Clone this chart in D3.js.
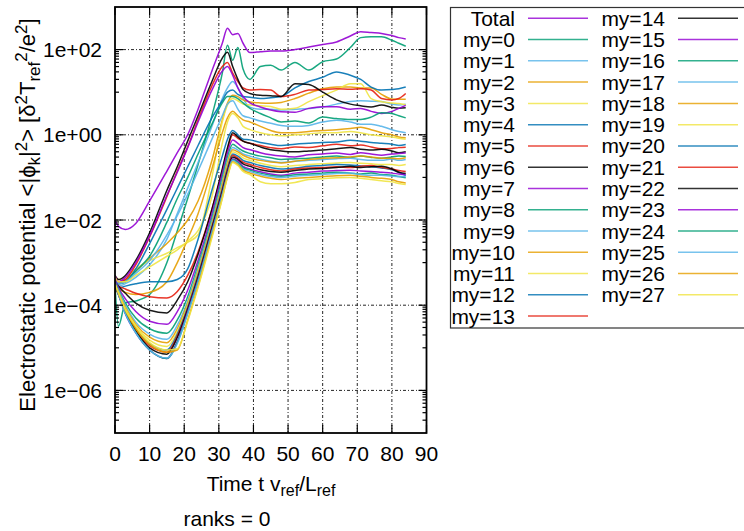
<!DOCTYPE html>
<html><head><meta charset="utf-8">
<script src="https://cdn.jsdelivr.net/npm/d3@7"></script>
<style>
body{margin:0;background:#fff;}
text{font-family:"Liberation Sans", Arial, Helvetica, sans-serif; fill:#000;}
</style>
</head><body>
<svg id="chart" width="744" height="531"></svg>
<script>
// ---------------- data ----------------
const times = [0, 1, 3, 6, 10, 15, 18, 21, 24, 28, 31, 32.5, 34, 35.5, 37, 39, 42, 45, 48, 52, 56, 60, 64, 68, 71, 74, 77, 80, 82, 84];

const total = [1e-2, 7.1e-3, 6.0e-3, 8.3e-3, 2.8e-2, 0.141, 0.38, 1.0, 3.98, 31.6, 141, 316, 224, 240, 141, 85, 89, 93, 93, 100, 115, 132, 151, 209, 263, 251, 240, 214, 191, 178];
const my0  = [3.2e-4, 3.2e-5, 1.12e-4, 1.26e-4, 1.78e-4, 1e-3, 5.6e-3, 3.2e-2, 0.2, 2.8, 28, 126, 56, 112, 35, 20, 40, 43, 33, 50, 33, 52, 60, 112, 191, 200, 200, 166, 141, 120];
const my1  = [3.55e-4, 2.8e-4, 3.2e-4, 4.5e-4, 8.9e-4, 3.55e-3, 1.41e-2, 5.6e-2, 0.224, 1.58, 7.1, 12.6, 17.8, 12.6, 7.1, 4.47, 3.98, 3.98, 3.8, 3.98, 4.17, 4.47, 5.25, 6.03, 6.31, 6.17, 6.03, 5.25, 5.01, 5.25];
const my2  = [4e-4, 3.2e-4, 4e-4, 6.3e-4, 1.26e-3, 2.8e-3, 5.0e-3, 1e-2, 2.8e-2, 0.25, 2.24, 5.6, 8.5, 7.9, 6.6, 5.9, 5.6, 5.5, 5.75, 7.1, 9.5, 12, 13.2, 13.2, 12.6, 12.6, 8.9, 6.9, 6.8, 6.8];
const my3  = [5e-4, 4e-4, 4.5e-4, 7.1e-4, 1.12e-3, 1.66e-3, 2.24e-3, 3.0e-3, 4.5e-3, 0.1, 2.0, 5.0, 7.1, 6.3, 5.25, 5.0, 4.8, 4.6, 4.0, 4.2, 6.0, 8.3, 11.2, 15.8, 15.8, 7.1, 6.0, 5.6, 5.4, 5.1];
const my4  = [4e-4, 3.2e-4, 3.55e-4, 7.1e-4, 2.8e-3, 1.78e-2, 5.6e-2, 0.178, 0.56, 2.5, 6.3, 10, 11.2, 8.9, 7.9, 7.6, 7.1, 7.4, 7.9, 12.6, 17.8, 22.4, 30, 25, 20, 13.2, 11.2, 11.5, 12, 13.2];
const my5  = [4.5e-4, 3.55e-4, 4e-4, 8.9e-4, 4e-3, 3.55e-2, 0.141, 0.52, 2.24, 14.1, 40, 50, 28, 17.8, 12.6, 11.2, 11.5, 11.2, 7.9, 8.9, 11.2, 11.5, 12, 11.7, 12, 11.2, 7.1, 6.6, 7.1, 9.3];
const my6  = [5e-4, 4e-4, 5e-4, 1.12e-3, 5e-3, 5e-2, 0.178, 0.71, 2.8, 17.8, 63, 87, 40, 20, 11.5, 9.3, 8.5, 8.3, 7.9, 15.8, 15.1, 10, 6.6, 5.25, 4.8, 4.5, 5.0, 4.4, 4.2, 4.3];
const my7  = [5e-4, 3.55e-4, 4.5e-4, 1e-3, 4.2e-3, 3.8e-2, 0.132, 0.5, 2.0, 11.2, 31.6, 40, 25, 12.6, 7.9, 5.6, 4.5, 3.8, 3.47, 3.39, 4.17, 4.57, 4.57, 3.98, 4.17, 3.55, 3.16, 3.55, 4.17, 4.9];
const my8  = [4e-4, 3.2e-4, 3.55e-4, 6.3e-4, 1.41e-3, 8.9e-3, 3.2e-2, 0.1, 0.355, 1.78, 5.6, 7.9, 7.9, 7.1, 5.6, 4.17, 3.16, 2.5, 2.0, 2.1, 1.9, 2.6, 2.4, 2.3, 2.3, 2.6, 3.3, 3.16, 2.8, 2.5];
const my9  = [4e-4, 3.2e-4, 3.55e-4, 5.6e-4, 1.12e-3, 4.5e-3, 1.26e-2, 4e-2, 0.141, 0.79, 2.8, 5.25, 6.3, 4.0, 2.8, 2.5, 2.1, 1.86, 1.66, 1.58, 1.66, 2.0, 2.2, 2.0, 1.78, 1.78, 1.58, 1.32, 1.2, 1.12];
const my10 = [3.2e-4, 2.5e-4, 2.0e-4, 1.78e-4, 2.0e-4, 3.55e-4, 1e-3, 3.55e-3, 1.41e-2, 0.158, 1.12, 2.5, 3.55, 2.8, 2.24, 2.0, 1.58, 1.26, 1.12, 1.12, 1.2, 1.26, 1.32, 1.41, 1.51, 1.32, 1.12, 1.0, 0.89, 0.85];
const my11 = [4.5e-4, 3.55e-4, 3.55e-4, 5e-4, 7.9e-4, 1.41e-3, 2.0e-3, 3.2e-3, 5.6e-3, 3.55e-2, 0.63, 2.0, 3.16, 2.5, 1.58, 1.32, 1.12, 1.0, 0.95, 1.0, 1.05, 1.12, 1.12, 1.2, 1.12, 1.0, 0.95, 0.89, 0.83, 0.79];
const my12 = [2.8e-4, 2.5e-4, 2.8e-4, 3.2e-4, 3.55e-4, 3.55e-4, 4e-4, 7.1e-4, 3.55e-3, 5e-2, 0.316, 0.79, 1.26, 1.0, 0.79, 0.76, 0.66, 0.6, 0.56, 0.6, 0.63, 0.66, 0.68, 0.74, 0.71, 0.66, 0.63, 0.6, 0.56, 0.59];
const my13 = [3.2e-4, 2.8e-4, 2.4e-4, 1.9e-4, 1.58e-4, 1.48e-4, 2.1e-4, 5e-4, 1.78e-3, 1.78e-2, 0.141, 0.447, 1.0, 0.83, 0.71, 0.63, 0.56, 0.5, 0.47, 0.52, 0.5, 0.55, 0.6, 0.55, 0.575, 0.52, 0.47, 0.48, 0.5, 0.51];
const my14 = [3.55e-4, 2.8e-4, 1.9e-4, 1.12e-4, 7.6e-5, 6.6e-5, 1.32e-4, 3.55e-4, 1.58e-3, 1.78e-2, 0.158, 0.5, 1.12, 0.89, 0.71, 0.63, 0.52, 0.447, 0.417, 0.398, 0.417, 0.437, 0.468, 0.5, 0.457, 0.437, 0.457, 0.417, 0.38, 0.398];
const my15 = [4e-4, 2.6e-4, 1.41e-4, 7.1e-5, 4.2e-5, 3.55e-5, 7.1e-5, 2.24e-4, 1.12e-3, 1.41e-2, 0.126, 0.38, 0.76, 0.63, 0.5, 0.447, 0.38, 0.339, 0.316, 0.302, 0.339, 0.355, 0.372, 0.347, 0.38, 0.355, 0.331, 0.355, 0.363, 0.372];
const my16 = [3.8e-4, 2.4e-4, 1.12e-4, 5e-5, 2.8e-5, 2.2e-5, 4.5e-5, 1.58e-4, 8.9e-4, 1.12e-2, 0.1, 0.302, 0.6, 0.5, 0.417, 0.363, 0.316, 0.288, 0.263, 0.275, 0.282, 0.302, 0.316, 0.295, 0.316, 0.295, 0.282, 0.302, 0.316, 0.309];
const my17 = [3.55e-4, 2.24e-4, 1e-4, 4e-5, 2.1e-5, 1.58e-5, 3.4e-5, 1.26e-4, 7.6e-4, 9.5e-3, 8.3e-2, 0.251, 0.5, 0.437, 0.355, 0.316, 0.269, 0.24, 0.224, 0.24, 0.251, 0.263, 0.275, 0.282, 0.263, 0.251, 0.251, 0.269, 0.251, 0.263];
const my18 = [3.2e-4, 2e-4, 8.9e-5, 3.55e-5, 1.78e-5, 1.32e-5, 2.8e-5, 1.12e-4, 6.6e-4, 8.3e-3, 7.1e-2, 0.219, 0.447, 0.398, 0.331, 0.282, 0.251, 0.229, 0.219, 0.24, 0.263, 0.282, 0.288, 0.302, 0.316, 0.302, 0.282, 0.282, 0.275, 0.288];
const my19 = [3.2e-4, 1.9e-4, 8.3e-5, 3.2e-5, 1.51e-5, 1.07e-5, 2.4e-5, 1e-4, 6.0e-4, 7.6e-3, 6.3e-2, 0.19, 0.398, 0.355, 0.288, 0.251, 0.214, 0.19, 0.178, 0.19, 0.2, 0.209, 0.219, 0.224, 0.214, 0.209, 0.2, 0.2, 0.19, 0.2];
const my20 = [3.2e-4, 1.9e-4, 7.6e-5, 2.8e-5, 1.26e-5, 8.9e-6, 2.1e-5, 8.9e-5, 5.25e-4, 7.1e-3, 5.6e-2, 0.166, 0.355, 0.316, 0.251, 0.224, 0.19, 0.17, 0.158, 0.166, 0.182, 0.19, 0.2, 0.195, 0.186, 0.178, 0.166, 0.151, 0.132, 0.11];
const my21 = [2.8e-4, 1.78e-4, 7.1e-5, 2.6e-5, 1.12e-5, 7.9e-6, 1.9e-5, 8.3e-5, 4.8e-4, 6.6e-3, 5e-2, 0.151, 0.331, 0.282, 0.229, 0.2, 0.17, 0.151, 0.141, 0.158, 0.166, 0.17, 0.178, 0.17, 0.182, 0.19, 0.17, 0.158, 0.145, 0.138];
const my22 = [2.8e-4, 1.78e-4, 6.6e-5, 2.5e-5, 1e-5, 7.1e-6, 1.74e-5, 7.9e-5, 4.5e-4, 6.3e-3, 4.7e-2, 0.138, 0.302, 0.263, 0.209, 0.182, 0.151, 0.138, 0.132, 0.145, 0.158, 0.162, 0.17, 0.182, 0.17, 0.178, 0.182, 0.158, 0.132, 0.123];
const my23 = [4e-4, 1.9e-4, 6.3e-5, 2.24e-5, 8.9e-6, 5.6e-6, 1.41e-5, 7.1e-5, 4e-4, 5.6e-3, 4.2e-2, 0.126, 0.275, 0.24, 0.182, 0.158, 0.135, 0.12, 0.112, 0.126, 0.132, 0.141, 0.145, 0.148, 0.141, 0.138, 0.132, 0.126, 0.12, 0.115];
const my24 = [3.55e-4, 1.9e-4, 6.6e-5, 2.3e-5, 8.9e-6, 5.6e-6, 1.35e-5, 6.6e-5, 3.8e-4, 5.25e-3, 4e-2, 0.117, 0.263, 0.224, 0.17, 0.148, 0.126, 0.112, 0.107, 0.115, 0.12, 0.126, 0.132, 0.126, 0.12, 0.126, 0.117, 0.112, 0.105, 0.098];
const my25 = [3.2e-4, 1.78e-4, 6.3e-5, 2.24e-5, 8.9e-6, 5.75e-6, 1.26e-5, 6.3e-5, 3.55e-4, 5e-3, 3.8e-2, 0.112, 0.251, 0.209, 0.158, 0.138, 0.117, 0.105, 0.1, 0.107, 0.112, 0.117, 0.123, 0.126, 0.117, 0.112, 0.112, 0.107, 0.105, 0.105];
const my26 = [3.2e-4, 1.9e-4, 7.6e-5, 2.8e-5, 1.2e-5, 7.9e-6, 8.9e-6, 4.5e-5, 2.8e-4, 4.2e-3, 3.3e-2, 0.105, 0.234, 0.2, 0.148, 0.126, 0.107, 0.095, 0.089, 0.095, 0.1, 0.105, 0.11, 0.112, 0.107, 0.1, 0.095, 0.089, 0.079, 0.074];
const my27 = [3.2e-4, 2e-4, 7.9e-5, 3.2e-5, 1.32e-5, 8.9e-6, 9.5e-6, 4.2e-5, 2.6e-4, 3.8e-3, 3.16e-2, 0.1, 0.224, 0.19, 0.138, 0.117, 0.079, 0.071, 0.071, 0.076, 0.089, 0.093, 0.098, 0.1, 0.095, 0.089, 0.083, 0.079, 0.072, 0.068];

const seriesNames = ["Total","my=0","my=1","my=2","my=3","my=4","my=5","my=6","my=7","my=8","my=9","my=10","my=11","my=12","my=13",
  "my=14","my=15","my=16","my=17","my=18","my=19","my=20","my=21","my=22","my=23","my=24","my=25","my=26","my=27"];
const seriesValues = [total,my0,my1,my2,my3,my4,my5,my6,my7,my8,my9,my10,my11,my12,my13,my14,my15,my16,my17,my18,my19,my20,my21,my22,my23,my24,my25,my26,my27];

const palette = ["#9400d3","#009e73","#56b4e9","#e69f00","#f0e442","#0072b2","#e51e10","#000000"];
const xTickValues = [0,10,20,30,40,50,60,70,80,90];
const yTickValues = [1e2, 1e0, 1e-2, 1e-4, 1e-6];
const yTickLabels = ["1e+02","1e+00","1e\u221202","1e\u221204","1e\u221206"];

// ---------------- layout ----------------
const svg = d3.select("#chart");
svg.append("rect").attr("width",744).attr("height",531).attr("fill","#fff");
const L = 115, R = 426.5, T = 7, B = 433;
const x = d3.scaleLinear().domain([0,90]).range([L,R]);
const y = d3.scaleLog().domain([1e-7,1e3]).range([B,T]);

// grid
const grid = svg.append("g").attr("stroke","#000").attr("stroke-width",1).attr("stroke-dasharray","3,2,1,2").attr("opacity",0.85);
xTickValues.filter(v => v>0 && v<90).forEach(v => {
  grid.append("line").attr("x1",x(v)).attr("x2",x(v)).attr("y1",T).attr("y2",B);
});
yTickValues.forEach(v => {
  grid.append("line").attr("x1",L).attr("x2",R).attr("y1",y(v)).attr("y2",y(v));
});

// lines
svg.append("defs").append("clipPath").attr("id","clip").append("rect")
  .attr("x",L).attr("y",T).attr("width",R-L).attr("height",B-T);
const line = d3.line().x((d,i)=>x(times[i])).y(d=>y(d)).curve(d3.curveMonotoneX);
const gl = svg.append("g").attr("clip-path","url(#clip)");
seriesValues.forEach((vals,i) => {
  gl.append("path").attr("d", line(vals)).attr("fill","none")
    .attr("stroke", palette[i%8]).attr("stroke-width",1.5).attr("stroke-opacity",0.9)
    .attr("stroke-linejoin","round");
});

// axes ticks (gnuplot style: inward, mirrored)
const ax = svg.append("g").attr("stroke","#000").attr("stroke-width",1.2);
xTickValues.forEach(v => {
  ax.append("line").attr("x1",x(v)).attr("x2",x(v)).attr("y1",B).attr("y2",B-8);
  ax.append("line").attr("x1",x(v)).attr("x2",x(v)).attr("y1",T).attr("y2",T+8);
});
yTickValues.forEach(v => {
  ax.append("line").attr("x1",L).attr("x2",L+8).attr("y1",y(v)).attr("y2",y(v));
  ax.append("line").attr("x1",R).attr("x2",R-8).attr("y1",y(v)).attr("y2",y(v));
});
[-7,-5,-3,-1,1].forEach(e => {
  for (let k=1;k<=9;k++){
    const v = k*Math.pow(10,e);
    if (v<=1e-7) continue;
    ax.append("line").attr("x1",L).attr("x2",L+4).attr("y1",y(v)).attr("y2",y(v));
    ax.append("line").attr("x1",R).attr("x2",R-4).attr("y1",y(v)).attr("y2",y(v));
  }
});
// frame
svg.append("rect").attr("x",L).attr("y",T).attr("width",R-L).attr("height",B-T)
  .attr("fill","none").attr("stroke","#000").attr("stroke-width",1.8);

// tick labels
const fs = 21;
xTickValues.forEach(v => {
  svg.append("text").attr("x",x(v)).attr("y",461).attr("text-anchor","middle")
    .attr("font-size",fs).text(v);
});
yTickValues.forEach((v,i) => {
  svg.append("text").attr("x",102).attr("y",y(v)+7.5).attr("text-anchor","end")
    .attr("font-size",fs).text(yTickLabels[i]);
});

// x label
const xl = svg.append("text").attr("x",271).attr("y",491).attr("text-anchor","middle").attr("font-size",fs);
xl.append("tspan").text("Time t v");
xl.append("tspan").attr("font-size",16).attr("dy",5).text("ref");
xl.append("tspan").attr("dy",-5).text("/L");
xl.append("tspan").attr("font-size",16).attr("dy",5).text("ref");

// y label
const yl = svg.append("text").attr("transform","translate(35,215) rotate(-90)")
  .attr("text-anchor","middle").attr("font-size",22);
yl.append("tspan").text("Electrostatic potential <|\u03d5");
yl.append("tspan").attr("font-size",17).attr("dy",5).text("k");
yl.append("tspan").attr("dy",-5).text("|");
yl.append("tspan").attr("font-size",17).attr("dy",-8).text("2");
yl.append("tspan").attr("dy",8).text("> [\u03b4");
yl.append("tspan").attr("font-size",17).attr("dy",-8).text("2");
yl.append("tspan").attr("dy",8).text("T");
yl.append("tspan").attr("font-size",17).attr("dy",5).text("ref");
yl.append("tspan").attr("font-size",17).attr("dy",-13).text("2");
yl.append("tspan").attr("dy",8).text("/e");
yl.append("tspan").attr("font-size",17).attr("dy",-8).text("2");
yl.append("tspan").attr("dy",8).text("]");

// ranks
svg.append("text").attr("x",227).attr("y",526).attr("text-anchor","middle").attr("font-size",fs).text("ranks = 0");

// legend
const lg = svg.append("g");
lg.append("rect").attr("x",450.5).attr("y",7.5).attr("width",300).attr("height",320.5)
  .attr("fill","none").attr("stroke","#333").attr("stroke-width",1.2);
seriesNames.forEach((name,i) => {
  const col = i<15 ? 0 : 1;
  const row = i<15 ? i : i-15;
  const yy = 18.3 + row*21.27;
  const tx = col===0 ? 515 : 665;
  const lx = col===0 ? 528 : 678;
  lg.append("text").attr("x",tx).attr("y",yy+7.5).attr("text-anchor","end").attr("font-size",fs).text(name);
  lg.append("line").attr("x1",lx).attr("x2",lx+60).attr("y1",yy).attr("y2",yy)
    .attr("stroke",palette[i%8]).attr("stroke-width",1.5).attr("stroke-opacity",0.8);
});
</script>
</body></html>
